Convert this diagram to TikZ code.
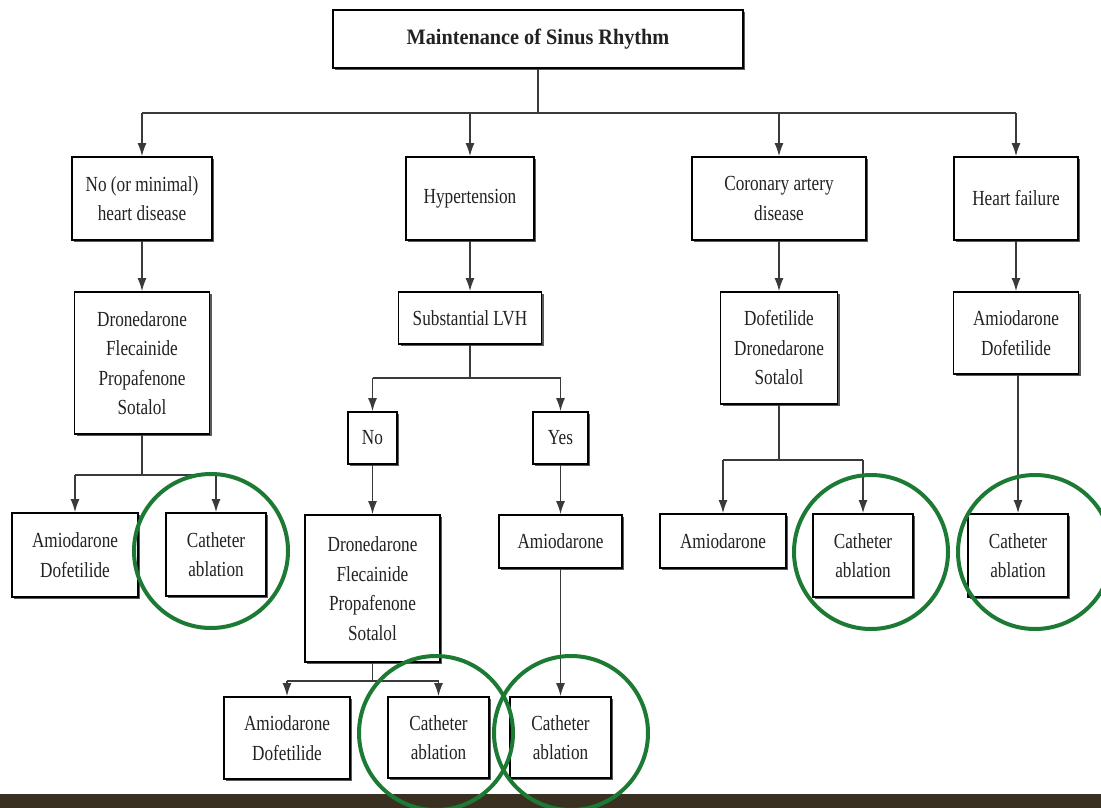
\documentclass[tikz,border=0pt]{standalone}
\usepackage{fontspec}
\setmainfont{Liberation Serif}
\newfontfamily\condfont[FakeStretch=0.8]{Liberation Serif}
\newfontfamily\titlefont[FakeStretch=0.92]{Liberation Serif}
\usetikzlibrary{arrows.meta,shadows}
\definecolor{ln}{HTML}{3A3A3A}
\definecolor{grn}{HTML}{1C7A34}
\definecolor{stripc}{HTML}{3A3022}
\definecolor{txt}{HTML}{222222}
\begin{document}
\begin{tikzpicture}[x=1pt,y=-1pt,
  box/.style={draw=black, line width=1.8pt, fill=white, align=center, inner sep=0pt,
    text=txt, font=\condfont\fontsize{21.5}{29.5}\selectfont,
    general shadow={shadow xshift=2.2pt, shadow yshift=-2.2pt, fill=black!65}},
  conn/.style={draw=ln, line width=1.3pt},
  arr/.style={conn, -{Latex[length=13pt,width=9pt]}},
  ring/.style={draw=grn, line width=4pt}]
\useasboundingbox (0,0) rectangle (1101,808);
\fill[white] (0,0) rectangle (1101,808);
\fill[stripc] (0,794) rectangle (1101,808);

% level 0
\node[box, minimum width=410pt, minimum height=58pt, font=\titlefont\fontsize{22}{26}\selectfont\bfseries] (top) at (538,39) {Maintenance of Sinus Rhythm};

% level 1
\node[box, minimum width=140pt, minimum height=83pt] (b1) at (142,198.5) {No (or minimal)\\heart disease};
\node[box, minimum width=128pt, minimum height=83pt] (hyp) at (470,198.5) {Hypertension};
\node[box, minimum width=174pt, minimum height=83pt] (cad) at (779,198.5) {Coronary artery\\disease};
\node[box, minimum width=124pt, minimum height=83pt] (hf) at (1016,198.5) {Heart failure};

% level 2
\node[box, minimum width=135pt, minimum height=142pt] (l2a) at (142,363) {Dronedarone\\Flecainide\\Propafenone\\Sotalol};
\node[box, minimum width=143pt, minimum height=52pt] (lvh) at (470,318) {Substantial LVH};
\node[box, minimum width=117pt, minimum height=112pt] (l2c) at (779,348) {Dofetilide\\Dronedarone\\Sotalol};
\node[box, minimum width=125pt, minimum height=82pt] (l2d) at (1016,333) {Amiodarone\\Dofetilide};

% level 3 left
\node[box, minimum width=126pt, minimum height=84pt] (amd1) at (75,555) {Amiodarone\\Dofetilide};
\node[box, minimum width=100pt, minimum height=83pt] (cat1) at (216,554.5) {Catheter\\ablation};

% LVH branch
\node[box, minimum width=49pt, minimum height=52pt] (no) at (372.5,438) {No};
\node[box, minimum width=55pt, minimum height=52pt] (yes) at (560.5,438) {Yes};
\node[box, minimum width=135pt, minimum height=147pt] (dfps) at (372.5,588.5) {Dronedarone\\Flecainide\\Propafenone\\Sotalol};
\node[box, minimum width=123pt, minimum height=53pt] (amio2) at (560.5,541.5) {Amiodarone};
\node[box, minimum width=126pt, minimum height=82pt] (amd2) at (287,738) {Amiodarone\\Dofetilide};
\node[box, minimum width=101pt, minimum height=81pt] (cat2) at (438.5,737.5) {Catheter\\ablation};
\node[box, minimum width=101pt, minimum height=81pt] (cat3) at (560.5,737.5) {Catheter\\ablation};

% CAD branch
\node[box, minimum width=126pt, minimum height=54pt] (amio3) at (723,541) {Amiodarone};
\node[box, minimum width=100pt, minimum height=83pt] (cat4) at (863,555.5) {Catheter\\ablation};

% HF branch
\node[box, minimum width=100pt, minimum height=83pt] (cat5) at (1018,555.5) {Catheter\\ablation};

% connectors: top
\coordinate (j0) at (538,113);
\draw[conn] (top.south) -- (j0);
\draw[conn] (b1.north |- j0) -- (hf.north |- j0);
\foreach \n in {b1,hyp,cad,hf} \draw[arr] (\n.north |- j0) -- (\n.north);

% level1 -> level2
\draw[arr] (b1.south) -- (b1.south |- l2a.north);
\draw[arr] (hyp.south) -- (hyp.south |- lvh.north);
\draw[arr] (cad.south) -- (cad.south |- l2c.north);
\draw[arr] (hf.south) -- (hf.south |- l2d.north);

% left branch
\coordinate (j1) at (142,475);
\draw[conn] (l2a.south) -- (j1);
\draw[conn] (amd1.north |- j1) -- (cat1.north |- j1);
\draw[arr] (amd1.north |- j1) -- (amd1.north);
\draw[arr] (cat1.north |- j1) -- (cat1.north);

% LVH branch
\coordinate (j2) at (470,378);
\draw[conn] (lvh.south) -- (j2);
\draw[conn] (no.north |- j2) -- (yes.north |- j2);
\draw[arr] (no.north |- j2) -- (no.north);
\draw[arr] (yes.north |- j2) -- (yes.north);
\draw[arr] (no.south) -- (dfps.north);
\draw[arr] (yes.south) -- (amio2.north);
\draw[arr] (amio2.south) -- (cat3.north);
\coordinate (j3) at (372.5,681);
\draw[conn] (dfps.south) -- (j3);
\draw[conn] (amd2.north |- j3) -- (cat2.north |- j3);
\draw[arr] (amd2.north |- j3) -- (amd2.north);
\draw[arr] (cat2.north |- j3) -- (cat2.north);

% CAD branch
\coordinate (j4) at (779,460);
\draw[conn] (l2c.south) -- (j4);
\draw[conn] (amio3.north |- j4) -- (cat4.north |- j4);
\draw[arr] (amio3.north |- j4) -- (amio3.north);
\draw[arr] (cat4.north |- j4) -- (cat4.north);

% HF branch
\draw[arr] (l2d.south -| cat5.north) -- (cat5.north);

% green rings
\draw[ring] (211,551) circle[radius=77pt];
\draw[ring] (436,733) circle[radius=77pt];
\draw[ring] (571,733) circle[radius=77pt];
\draw[ring] (871,552) circle[radius=77pt];
\draw[ring] (1035,552) circle[radius=77pt];
\end{tikzpicture}
\end{document}
